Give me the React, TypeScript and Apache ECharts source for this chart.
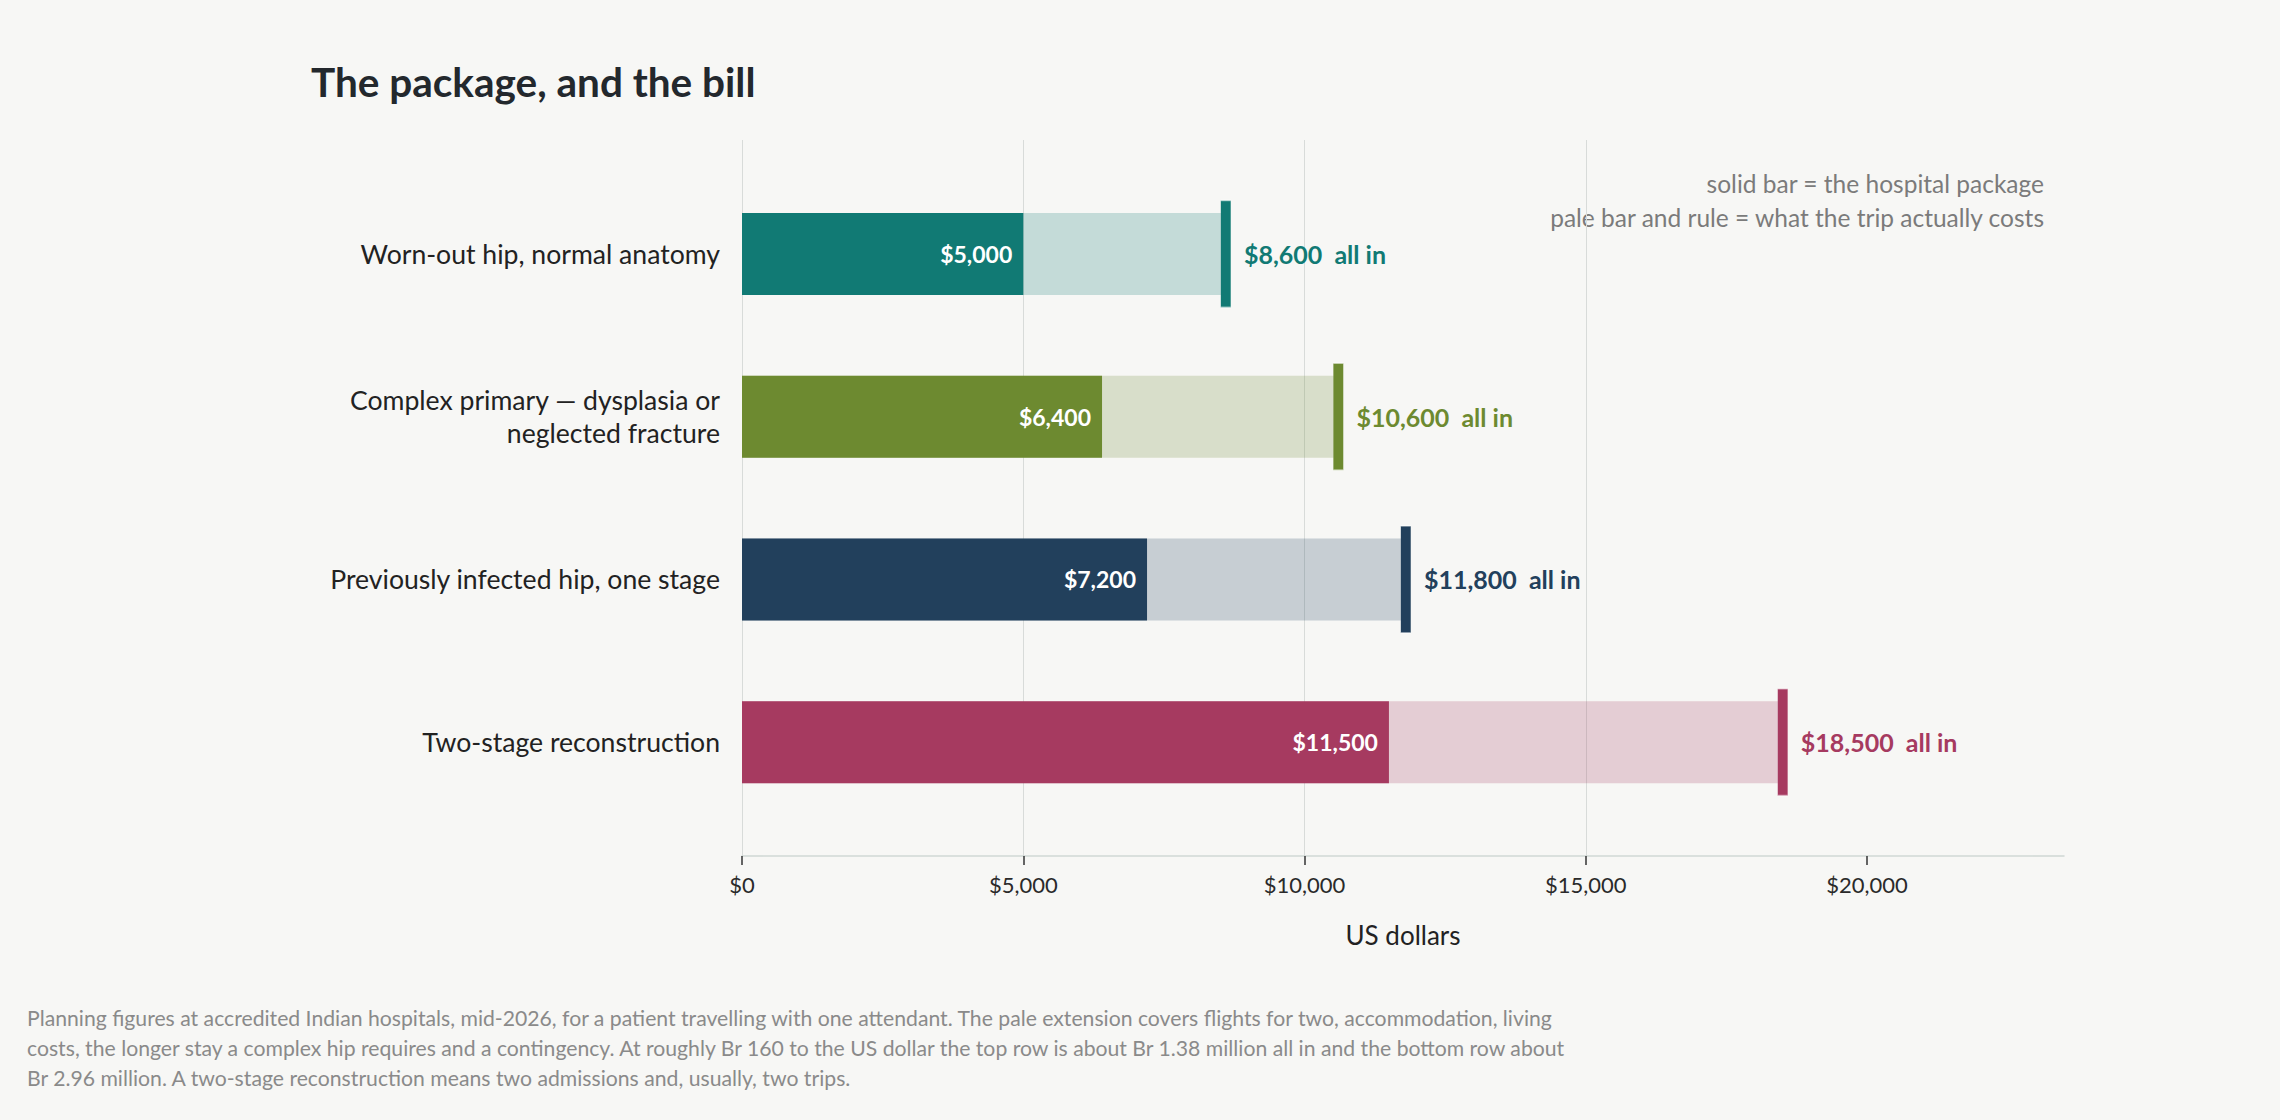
import React, { useEffect, useRef } from "react";
import * as echarts from "echarts";

const categories = [
  "Worn-out hip, normal anatomy",
  "Complex primary — dysplasia or\nneglected fracture",
  "Previously infected hip, one stage",
  "Two-stage reconstruction",
];
const packageValues = [5000, 6400, 7200, 11500];
const totalValues = [8600, 10600, 11800, 18500];
const colors = ["#117a74", "#6d8a30", "#22405c", "#a63a60"];
const xTicks = [0, 5000, 10000, 15000, 20000];
const xMax = 23500;

const title = "The package, and the bill";
const legendLines = [
  "solid bar = the hospital package",
  "pale bar and rule = what the trip actually costs",
];
const footLines = [
  "Planning figures at accredited Indian hospitals, mid-2026, for a patient travelling with one attendant. The pale extension covers flights for two, accommodation, living",
  "costs, the longer stay a complex hip requires and a contingency. At roughly Br 160 to the US dollar the top row is about Br 1.38 million all in and the bottom row about",
  "Br 2.96 million. A two-stage reconstruction means two admissions and, usually, two trips.",
];

const money = (v: number) => "$" + v.toLocaleString("en-US");
const FONT = "Lato, 'Noto Sans', sans-serif";

export default function App() {
  const ref = useRef<HTMLDivElement>(null);
  useEffect(() => {
    document.body.style.margin = "0";
    const chart = echarts.init(ref.current!, null, { renderer: "svg" });
    const L = 742;
    const R = 2280 - 2064;
    chart.setOption({
      animation: false,
      backgroundColor: "#f7f7f5",
      textStyle: { fontFamily: FONT },
      grid: [
        { left: L, right: R, top: 140, bottom: 1120 - 856 },
        { left: L, right: R, top: 172.5, bottom: 1120 - 823.5 },
      ],
      xAxis: [
        {
          type: "value",
          gridIndex: 0,
          min: 0,
          max: xMax,
          interval: 5000,
          axisLine: { show: true, lineStyle: { color: "#d0d8d4", width: 1.5 } },
          axisTick: {
            show: true,
            length: 9,
            customValues: xTicks,
            lineStyle: { color: "#333", width: 1.5 },
          },
          splitLine: {
            show: true,
            showMaxLine: false,
            lineStyle: { color: "#d8dbd9", width: 1 },
          },
          axisLabel: {
            customValues: xTicks,
            formatter: (v: number) => (v > 20000 ? "" : money(v)),
            fontSize: 22,
            color: "#2a2a2a",
            margin: 17,
            fontFamily: FONT,
          },
          name: "US dollars",
          nameLocation: "middle",
          nameGap: 66,
          nameTextStyle: { fontSize: 26, color: "#222", fontFamily: FONT },
        },
        {
          type: "value",
          gridIndex: 1,
          min: 0,
          max: xMax,
          show: false,
        },
      ],
      yAxis: [
        { type: "value", gridIndex: 0, show: false },
        {
          type: "category",
          gridIndex: 1,
          inverse: true,
          data: categories,
          axisLine: { show: false },
          axisTick: { show: false },
          splitLine: { show: false },
          axisLabel: {
            fontSize: 26.6,
            lineHeight: 33,
            color: "#222",
            margin: 22,
            align: "right",
            fontFamily: FONT,
          },
        },
      ],
      series: [
        {
          name: "total",
          type: "bar",
          xAxisIndex: 1,
          yAxisIndex: 1,
          barWidth: 82,
          barGap: "-100%",
          z: 2,
          data: totalValues.map((v, i) => ({
            value: v,
            itemStyle: { color: colors[i], opacity: 0.22 },
          })),
        },
        {
          name: "package",
          type: "bar",
          xAxisIndex: 1,
          yAxisIndex: 1,
          barWidth: 82,
          barGap: "-100%",
          z: 3,
          data: packageValues.map((v, i) => ({
            value: v,
            itemStyle: { color: colors[i] },
          })),
          label: {
            show: true,
            position: "insideRight",
            distance: 11,
            formatter: (p: any) => money(p.value),
            color: "#ffffff",
            fontWeight: "bold",
            fontSize: 23,
            fontFamily: FONT,
          },
        },
        {
          name: "rule",
          type: "scatter",
          xAxisIndex: 1,
          yAxisIndex: 1,
          symbol: "rect",
          symbolSize: [10, 107],
          z: 4,
          itemStyle: { opacity: 1 },
          data: totalValues.map((v, i) => ({
            value: [v, i],
            itemStyle: {
              color: colors[i],
              opacity: 1,
              borderColor: "rgba(255,255,255,0.5)",
              borderWidth: 0.6,
            },
            label: { color: colors[i] },
          })),
          label: {
            show: true,
            position: "right",
            distance: 13,
            formatter: (p: any) => money(p.value[0]) + "  all in",
            fontWeight: "bold",
            fontSize: 25,
            fontFamily: FONT,
          },
        },
      ],
      graphic: [
        {
          type: "text",
          left: 311,
          top: 61,
          style: {
            text: title,
            fontSize: 40.5,
            fontWeight: "bold",
            fill: "#23282d",
            fontFamily: FONT,
          },
        },
        ...legendLines.map((t, i) => ({
          type: "text",
          x: 2044,
          y: 183 + i * 34,
          style: {
            text: t,
            fontSize: 24.5,
            fill: "#7b7b7b",
            align: "right",
            verticalAlign: "middle",
            fontFamily: FONT,
          },
        })),
        ...footLines.map((t, i) => ({
          type: "text",
          x: 27,
          y: 1018 + i * 30,
          style: {
            text: t,
            fontSize: 21.2,
            fill: "#8a8a8a",
            align: "left",
            verticalAlign: "middle",
            fontFamily: FONT,
          },
        })),
      ],
    });
    return () => chart.dispose();
  }, []);
  return (
    <div
      ref={ref}
      style={{ position: "fixed", left: 0, top: 0, width: 2280, height: 1120 }}
    />
  );
}
